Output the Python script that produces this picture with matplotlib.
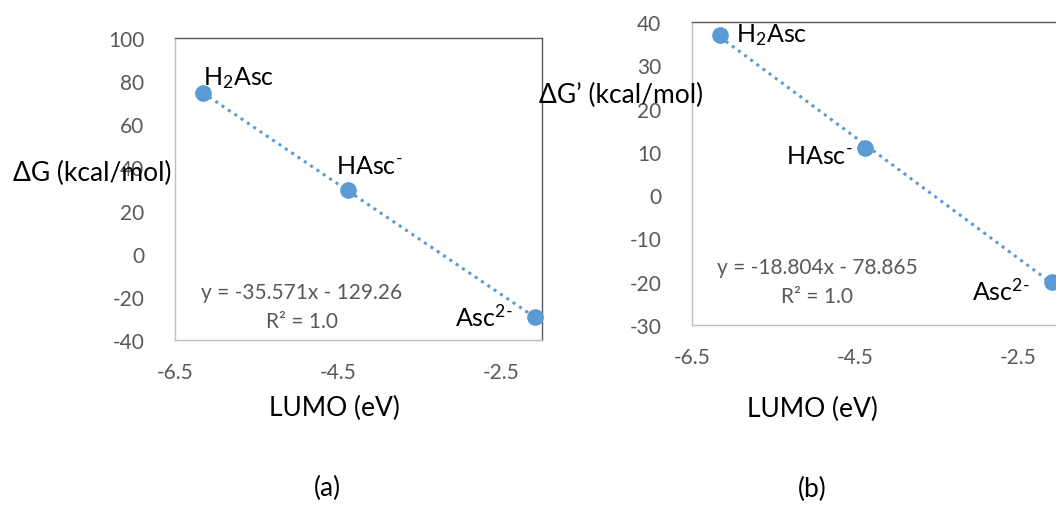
import numpy as np
import matplotlib
matplotlib.use("Agg")
import matplotlib.pyplot as plt

plt.rcParams['font.family'] = ['Lato', 'DejaVu Sans']
plt.rcParams['mathtext.fontset'] = 'custom'
plt.rcParams['mathtext.rm'] = 'Lato'
plt.rcParams['mathtext.it'] = 'Lato:italic'
plt.rcParams['axes.unicode_minus'] = False

# data
lumo = [-6.16, -4.38, -2.09]
dg = [74.5, 29.5, -29.5]
dg_prime = [37.0, 11.0, -20.0]
species = ['H$_2$Asc', r'HAsc$^{\text{-}}$', r'Asc$^{\text{2-}}$']
eq_a = 'y = -35.571x - 129.26'
eq_b = 'y = -18.804x - 78.865'
r2_text = 'R² = 1.0'
xticks = [-6.5, -4.5, -2.5]
yticks_a = [-40, -20, 0, 20, 40, 60, 80, 100]
yticks_b = [-30, -20, -10, 0, 10, 20, 30, 40]

W, H = 1056, 506
BLUE = '#5B9BD5'
GREY = '#595959'
LIGHT = '#BFBFBF'

fig = plt.figure(figsize=(W / 100, H / 100), dpi=100)


def px(x, y):
    return x / W, 1 - y / H


def make_panel(rect, yvals, yticks, ylim, label_offsets, eq, eq_pos, r2_pos):
    ax = fig.add_axes(rect)
    ax.set_xlim(-6.5, -2.0)
    ax.set_ylim(*ylim)
    ax.set_xticks(xticks)
    ax.set_xticklabels([f'{t}' for t in xticks])
    ax.set_yticks(yticks)
    ax.tick_params(length=0, labelsize=15, labelcolor=GREY)
    ax.tick_params(axis='y', pad=22)
    ax.tick_params(axis='x', pad=16)
    for s in ['top', 'right']:
        ax.spines[s].set_color(GREY)
    for s in ['left', 'bottom']:
        ax.spines[s].set_color(LIGHT)
    for s in ax.spines.values():
        s.set_linewidth(1.0)

    # linear trendline through the points
    k, b = np.polyfit(lumo, yvals, 1)
    xs = np.array([lumo[0], lumo[-1]])
    ax.plot(xs, k * xs + b, linestyle=(0, (1, 1.5)), color=BLUE, lw=2.2,
            clip_on=False, zorder=2)
    ax.plot(lumo, yvals, 'o', color=BLUE, markersize=11, clip_on=False, zorder=3)

    for (x, y), name, (dx, dy, ha) in zip(zip(lumo, yvals), species, label_offsets):
        ax.annotate(name, (x, y), xytext=(dx, dy), textcoords='offset pixels',
                    ha=ha, va='center', fontsize=18, color='black')

    fig.text(*px(*eq_pos), eq, ha='center', va='center', fontsize=15, color=GREY)
    fig.text(*px(*r2_pos), r2_text, ha='center', va='center', fontsize=15, color=GREY)
    return ax


ax_a = make_panel([175 / W, 1 - 341 / H, 367 / W, 302 / H], dg, yticks_a, (-40, 100),
                  [(0, 16, 'left'), (-12, 25, 'left'), (-22, 1, 'right')],
                  eq_a, (302, 293), (302, 322))
ax_b = make_panel([692 / W, 1 - 326 / H, 367 / W, 303 / H], dg_prime, yticks_b, (-30, 40),
                  [(16, 1, 'left'), (-12, -8, 'right'), (-22, -9, 'right')],
                  eq_b, (817, 268), (817, 297))

fig.text(*px(92, 173), 'ΔG (kcal/mol)', ha='center', va='center', fontsize=19)
fig.text(*px(621, 95), 'ΔG’ (kcal/mol)', ha='center', va='center', fontsize=19)
fig.text(*px(334, 408), 'LUMO (eV)', ha='center', va='center', fontsize=19)
fig.text(*px(812, 409), 'LUMO (eV)', ha='center', va='center', fontsize=19)
fig.text(*px(327, 488), '(a)', ha='center', va='center', fontsize=19)
fig.text(*px(812, 489), '(b)', ha='center', va='center', fontsize=19)

fig.savefig('out.png', dpi=100)
